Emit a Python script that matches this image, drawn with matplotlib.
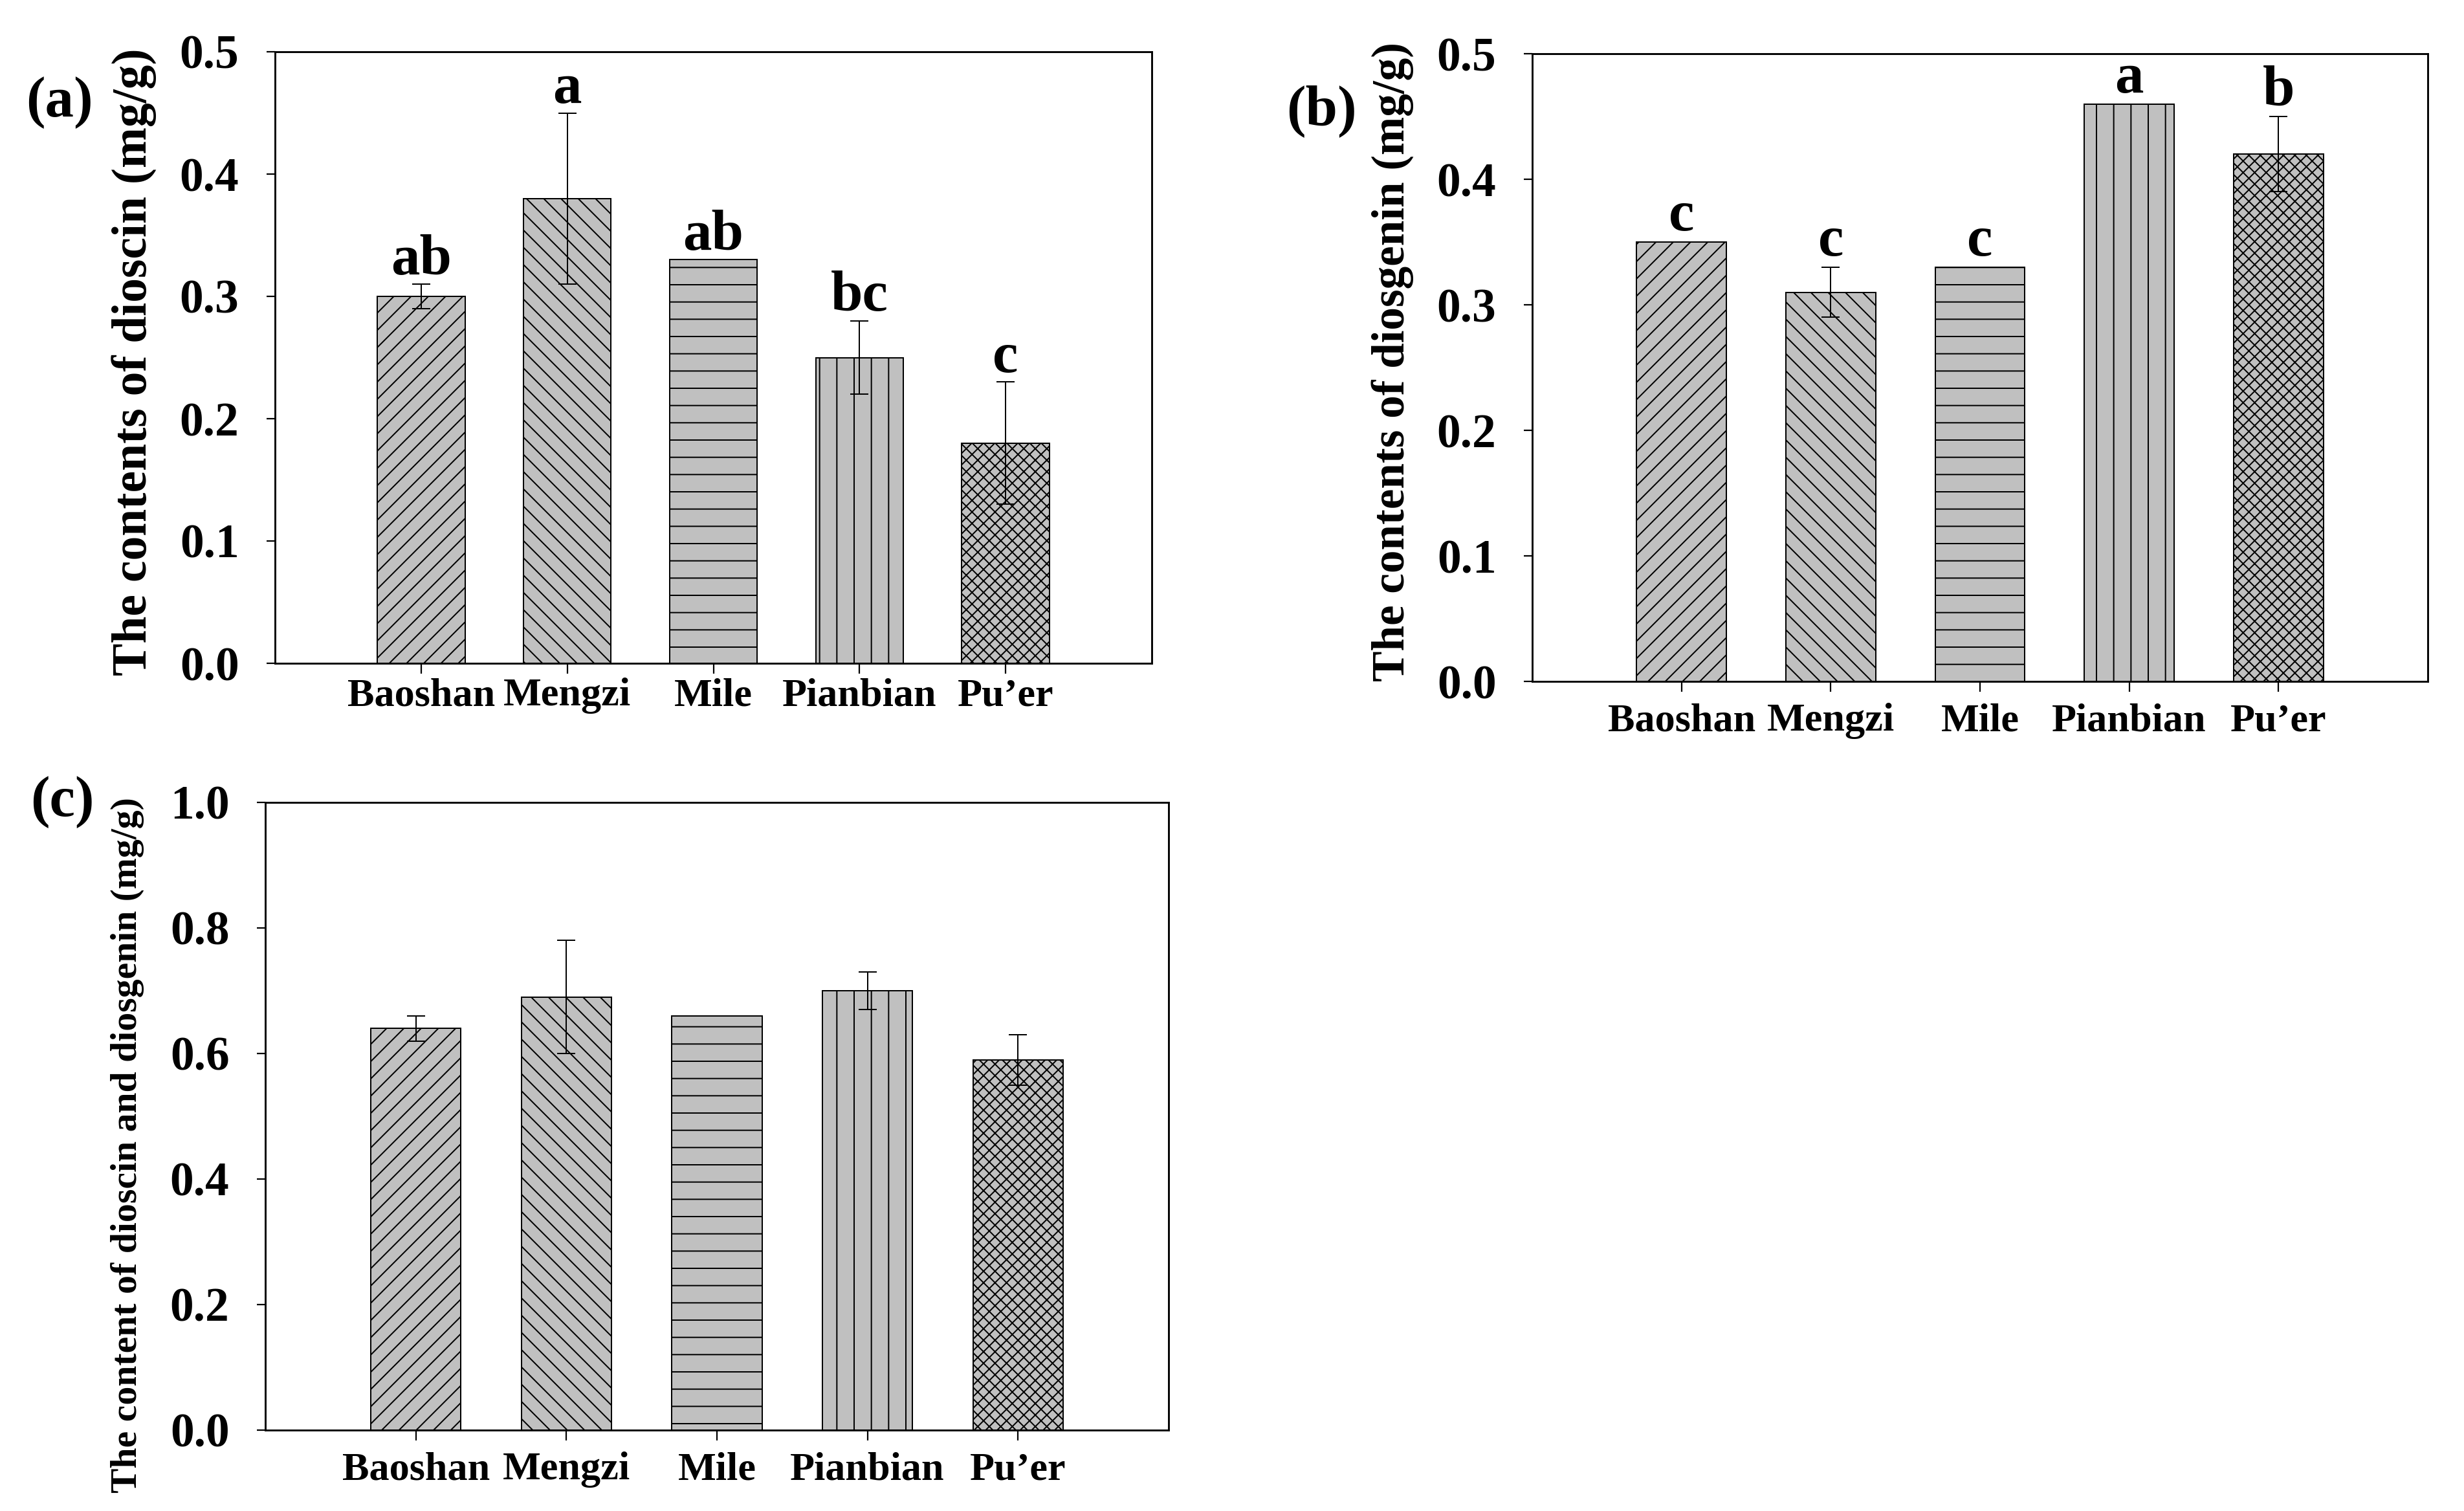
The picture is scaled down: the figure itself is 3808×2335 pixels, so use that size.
import matplotlib
matplotlib.use("Agg")
import matplotlib.pyplot as plt
from matplotlib.ticker import FormatStrFormatter, MultipleLocator

# ---------------- data ----------------
regions = ["Baoshan", "Mengzi", "Mile", "Pianbian", "Pu\u2019er"]

dioscin = [0.30, 0.38, 0.33, 0.25, 0.18]
dioscin_err = [0.01, 0.07, 0.0, 0.03, 0.05]
dioscin_letters = ["ab", "a", "ab", "bc", "c"]

diosgenin = [0.35, 0.31, 0.33, 0.46, 0.42]
diosgenin_err = [0.0, 0.02, 0.0, 0.0, 0.03]
diosgenin_letters = ["c", "c", "c", "a", "b"]

total = [0.64, 0.69, 0.66, 0.70, 0.59]
total_err = [0.02, 0.09, 0.0, 0.03, 0.04]

hatches = ["//", "\\\\", "-", "|", "xxx"]

# ---------------- style ----------------
plt.rcParams["font.family"] = ["Liberation Serif", "DejaVu Serif"]
plt.rcParams["font.weight"] = "bold"
plt.rcParams["hatch.linewidth"] = 0.9
plt.rcParams["hatch.color"] = "black"

DPI = 160
fig = plt.figure(figsize=(3808 / DPI, 2335 / DPI), dpi=DPI)

W, H = 3808.0, 2335.0


def make_axes(left, right, top, bottom):
    return fig.add_axes([left / W, 1 - bottom / H, (right - left) / W, (bottom - top) / H])


def draw_panel(ax, values, errs, letters, ylim, ystep, ylabel, ylabel_size,
               label_xy, xpad, letter_off):
    x = list(range(len(regions)))
    bars = ax.bar(x, values, width=0.6, color="#c0c0c0", edgecolor="black",
                  linewidth=0.9, zorder=2)
    for b, h in zip(bars, hatches):
        b.set_hatch(h)
    ex = [xi for xi, e in zip(x, errs) if e > 0]
    ev = [v for v, e in zip(values, errs) if e > 0]
    ee = [e for e in errs if e > 0]
    ax.errorbar(ex, ev, yerr=ee, fmt="none", ecolor="black", elinewidth=0.9,
                capsize=6.5, capthick=0.9, zorder=3)
    if letters is not None:
        for xi, v, e, t in zip(x, values, errs, letters):
            ax.annotate(t, (xi, v + e), xytext=(0, letter_off),
                        textcoords="offset points", ha="center", va="baseline",
                        fontsize=40, fontweight="bold")
    ax.set_xlim(-1, 5)
    ax.set_ylim(*ylim)
    ax.yaxis.set_major_locator(MultipleLocator(ystep))
    ax.yaxis.set_major_formatter(FormatStrFormatter("%.1f"))
    ax.set_xticks(x)
    ax.set_xticklabels(regions, fontsize=28, fontweight="bold")
    ax.tick_params(axis="y", direction="out", length=6, width=1.0,
                   labelsize=33, pad=19)
    ax.tick_params(axis="x", direction="out", length=7, width=1.0, pad=xpad)
    for lab in ax.get_yticklabels():
        lab.set_fontweight("bold")
    for s in ax.spines.values():
        s.set_linewidth(1.3)
    ax.set_ylabel(ylabel, fontsize=ylabel_size, fontweight="bold",
                  va="center")
    ax.yaxis.set_label_coords(*label_xy)


ax_a = make_axes(425, 1780, 80, 1025)
draw_panel(ax_a, dioscin, dioscin_err, dioscin_letters, (0, 0.5), 0.1,
           "The contents of dioscin (mg/g)", 34, (-0.160, 0.493), 3, 7)

ax_b = make_axes(2368, 3752, 83, 1053)
draw_panel(ax_b, diosgenin, diosgenin_err, diosgenin_letters, (0, 0.5), 0.1,
           "The contents of diosgenin (mg/g)", 32, (-0.156, 0.509), 8, 8)

ax_c = make_axes(410, 1806, 1240, 2210)
draw_panel(ax_c, total, total_err, None, (0, 1.0), 0.2,
           "The content of dioscin and diosgenin (mg/g)", 26, (-0.153, 0.454), 8, 7)

fig.text(92 / W, 1 - 159 / H, "(a)", fontsize=40, fontweight="bold",
         ha="center", va="center")
fig.text(2042 / W, 1 - 172 / H, "(b)", fontsize=40, fontweight="bold",
         ha="center", va="center")
fig.text(96 / W, 1 - 1240 / H, "(c)", fontsize=40, fontweight="bold",
         ha="center", va="center")

fig.savefig("out.png", dpi=DPI, facecolor="white")
